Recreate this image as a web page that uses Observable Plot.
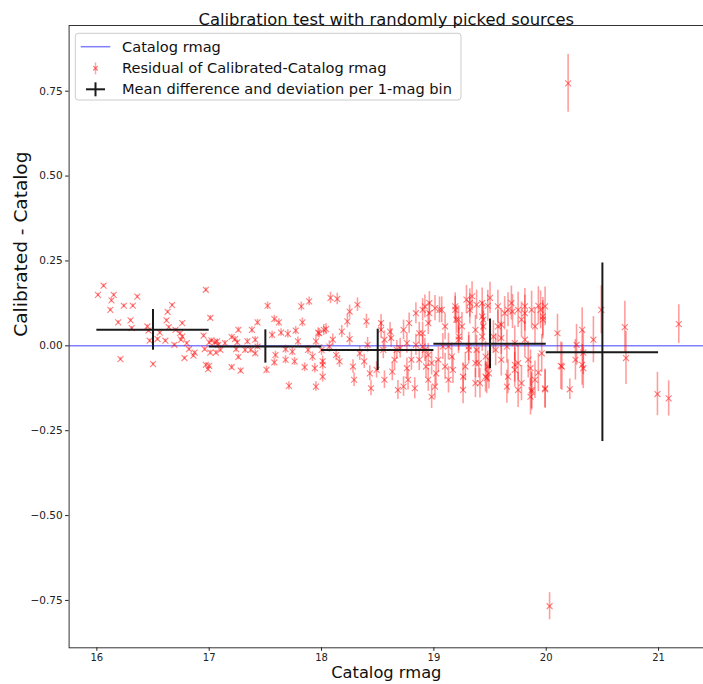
<!DOCTYPE html>
<html>
<head>
<meta charset="utf-8">
<script src="https://cdn.jsdelivr.net/npm/d3@7"></script>
<script src="https://cdn.jsdelivr.net/npm/@observablehq/plot@0.6"></script>
<style>
  html, body { margin: 0; padding: 0; background: white; }
  #chart { width: 703px; height: 684px; }
</style>
</head>
<body>
<div id="chart"></div>
<script>
// ---- Data (x = catalog rmag, y = calibrated - catalog, e = error) ----
const titleText = "Calibration test with randomly picked sources";
const xLabel = "Catalog rmag";
const yLabel = "Calibrated - Catalog";
const legendLabels = ["Catalog rmag", "Residual of Calibrated-Catalog rmag", "Mean difference and deviation per 1-mag bin"];

const xTicks = [16, 17, 18, 19, 20, 21];
const yTicks = [-0.75, -0.5, -0.25, 0, 0.25, 0.5, 0.75];

const res16 = [
  [16.06,0.177,0.005],[16.01,0.150,0.005],[16.15,0.150,0.005],[16.13,0.134,0.005],[16.36,0.145,0.005],
  [16.24,0.118,0.005],[16.32,0.118,0.005],[16.12,0.106,0.005],[16.19,0.069,0.005],[16.30,0.075,0.005],
  [16.31,0.052,0.005],[16.45,0.057,0.005],[16.46,0.045,0.005],[16.47,0.015,0.005],[16.21,-0.039,0.005],
  [16.50,-0.054,0.005],[16.67,0.120,0.005],[16.63,0.100,0.005],[16.62,0.075,0.005],[16.76,0.067,0.005],
  [16.56,0.039,0.005],[16.54,0.020,0.005],[16.61,0.015,0.005],[16.64,0.055,0.005],[16.70,0.047,0.005],
  [16.74,0.037,0.005],[16.76,0.027,0.005],[16.75,0.018,0.005],[16.80,0.008,0.005],[16.69,0.003,0.005],
  [16.82,-0.010,0.005],[16.87,-0.020,0.005],[16.78,-0.036,0.005],[16.86,-0.029,0.005],[16.97,0.165,0.006],
  [16.95,0.030,0.006],[16.96,-0.010,0.006],[16.97,-0.056,0.006],[16.99,-0.069,0.006]
];
const res17 = [
  [17.01,0.082,0.007],[17.02,0.016,0.007],[17.00,0.010,0.007],[17.01,-0.020,0.007],[17.00,-0.059,0.007],
  [17.05,0.010,0.007],[17.06,-0.020,0.007],[17.08,0.003,0.007],[17.07,0.013,0.007],[17.10,-0.012,0.007],
  [17.14,0.008,0.008],[17.20,0.026,0.008],[17.23,0.020,0.008],[17.25,0.010,0.008],[17.26,0.047,0.008],
  [17.24,-0.010,0.008],[17.26,-0.033,0.008],[17.20,-0.063,0.008],[17.28,-0.073,0.008],[17.32,-0.012,0.009],
  [17.34,0.013,0.009],[17.38,0.047,0.009],[17.43,0.069,0.009],[17.41,0.018,0.009],[17.41,-0.022,0.009],
  [17.37,-0.012,0.009],[17.43,-0.002,0.009],[17.52,0.118,0.011],[17.56,0.032,0.011],[17.58,0.079,0.011],
  [17.62,0.069,0.011],[17.64,0.039,0.011],[17.51,-0.071,0.011],[17.58,-0.049,0.011],[17.59,-0.027,0.011],
  [17.70,0.035,0.012],[17.77,0.045,0.012],[17.83,0.069,0.013],[17.82,0.116,0.013],[17.89,0.131,0.013],
  [17.68,-0.010,0.012],[17.74,-0.017,0.012],[17.76,-0.046,0.012],[17.85,-0.063,0.013],[17.71,-0.118,0.012],
  [17.95,-0.120,0.014],[17.94,-0.066,0.014],[17.92,-0.032,0.014],[17.95,0.013,0.014],[17.97,0.039,0.014],
  [17.79,0.013,0.013],[17.88,-0.012,0.013],[17.68,-0.041,0.012],[17.98,0.037,0.014]
];
const res18 = [
  [18.02,0.047,0.016],[18.00,-0.012,0.016],[18.01,-0.046,0.016],[18.08,0.141,0.017],[18.14,0.138,0.017],
  [18.25,0.101,0.019],[18.32,0.121,0.02],[18.23,0.072,0.019],[18.40,0.072,0.021],[18.04,0.049,0.016],
  [18.18,0.042,0.018],[18.10,0.018,0.017],[18.25,0.020,0.019],[18.07,-0.002,0.017],[18.13,-0.027,0.017],
  [18.16,-0.046,0.018],[18.01,-0.056,0.016],[18.28,-0.061,0.02],[18.29,-0.100,0.02],[18.44,-0.125,0.022],
  [18.43,-0.081,0.022],[18.38,-0.046,0.021],[18.34,-0.022,0.021],[18.41,0.003,0.022],[18.49,-0.071,0.024],
  [18.55,-0.012,0.026],[18.53,0.047,0.025],[18.61,0.042,0.027],[18.62,0.023,0.027],[18.56,-0.100,0.026],
  [18.68,-0.130,0.028],[18.73,-0.120,0.029],[18.77,-0.100,0.03],[18.83,-0.125,0.031],[18.65,-0.041,0.028],
  [18.70,-0.007,0.029],[18.73,0.047,0.029],[18.78,0.067,0.03],[18.84,0.096,0.031],[18.90,0.106,0.033],
  [18.87,0.037,0.032],[18.90,-0.002,0.033],[18.87,-0.041,0.032],[18.93,-0.061,0.034],[18.98,-0.150,0.035],
  [18.96,0.126,0.034],[18.80,-0.041,0.031],[18.01,-0.091,0.016],[18.53,0.067,0.025],[18.92,0.116,0.034],
  [18.96,0.096,0.034],[18.95,0.067,0.034],[18.90,0.037,0.033],[18.92,-0.012,0.034],[18.98,-0.051,0.035],
  [18.95,-0.100,0.034],[18.67,-0.012,0.028],[18.76,0.008,0.03],[18.84,0.003,0.031],[18.95,-0.027,0.034],
  [18.63,-0.076,0.027],[18.76,-0.066,0.03],[18.56,0.018,0.026]
];
const res19 = [
  [19.07,0.106,0.038],[19.13,-0.002,0.039],[19.17,-0.071,0.04],[19.19,0.106,0.04],[19.25,0.057,0.041],
  [19.26,-0.130,0.041],[19.32,0.126,0.042],[19.34,0.146,0.043],[19.37,0.047,0.043],[19.38,-0.012,0.043],
  [19.40,-0.051,0.044],[19.43,0.126,0.044],[19.44,0.077,0.045],[19.46,-0.091,0.045],[19.50,0.141,0.046],
  [19.53,0.027,0.047],[19.57,0.116,0.048],[19.60,-0.041,0.048],[19.63,0.096,0.049],[19.66,-0.091,0.05],
  [19.69,0.126,0.05],[19.72,0.008,0.051],[19.75,-0.051,0.052],[19.78,0.077,0.052],[19.81,0.116,0.053],
  [19.84,-0.041,0.054],[19.86,-0.150,0.054],[19.90,0.057,0.055],[19.95,0.106,0.056],[19.96,-0.022,0.056],
  [19.99,0.116,0.057],[19.90,-0.100,0.055],[19.60,0.062,0.048],[19.49,-0.081,0.046],[19.31,-0.012,0.042],
  [19.22,0.018,0.041],[19.10,0.057,0.039],[19.16,-0.032,0.04],[19.28,-0.061,0.042],[19.43,0.027,0.044],
  [19.37,-0.110,0.043],[19.55,-0.012,0.047],[19.72,-0.071,0.051],[19.78,-0.110,0.052],[19.04,-0.041,0.038],
  [19.22,0.077,0.041],[19.87,0.106,0.055],
  [19.01,0.111,0.037],[19.05,0.106,0.038],[19.02,-0.081,0.037],[19.01,-0.120,0.037],[19.08,-0.002,0.038],
  [19.10,-0.061,0.039],[19.13,-0.100,0.039],[19.19,0.116,0.04],[19.20,0.077,0.04],[19.22,0.027,0.041],
  [19.26,-0.091,0.041],[19.29,0.136,0.042],[19.32,0.106,0.042],[19.31,-0.002,0.042],[19.37,-0.051,0.043],
  [19.38,0.121,0.043],[19.43,0.086,0.044],[19.44,0.057,0.045],[19.41,-0.110,0.044],[19.46,-0.032,0.045],
  [19.48,-0.061,0.046],
  [19.48,0.118,0.046],[19.57,0.057,0.048],[19.60,0.023,0.048],[19.47,-0.095,0.046],[19.65,-0.120,0.049],
  [19.66,0.106,0.05],[19.70,0.101,0.05],[19.75,0.106,0.052],[19.72,-0.056,0.051],[19.75,-0.130,0.052],
  [19.81,0.018,0.053],[19.86,-0.066,0.054],[19.87,-0.135,0.055],[19.97,0.086,0.056],[19.99,-0.125,0.057],
  [19.65,-0.002,0.049],[19.81,0.096,0.053],[19.93,0.118,0.056],[19.97,0.077,0.056],[19.93,-0.079,0.056],
  [19.99,-0.128,0.057],[19.87,-0.130,0.055]
];
const res20 = [
  [20.10,0.037,0.056],[20.13,-0.059,0.07],[20.14,-0.061,0.07],[20.21,-0.128,0.03],[20.26,-0.041,0.06],
  [20.27,0.003,0.06],[20.32,0.047,0.065],[20.33,-0.020,0.065],[20.32,-0.056,0.06],[20.33,-0.066,0.06],
  [20.42,0.018,0.068],[20.49,0.106,0.071],[20.70,0.055,0.076],[20.71,-0.036,0.078],[20.99,-0.142,0.064],
  [21.09,-0.155,0.052],[21.18,0.064,0.057],[20.195,0.773,0.085],[20.03,-0.767,0.04]
];

// Mean difference and deviation per 1-mag bin
const binLo = [16, 17, 18, 19, 20];
const binHi = [17, 18, 19, 20, 21];
const binMean = [0.047, -0.002, -0.012, 0.006, -0.019];
const binStd = [0.060, 0.049, 0.061, 0.073, 0.263];

// ---- Build tables ----
const residuals = [...res16, ...res17, ...res18, ...res19, ...res20].map(([x, y, e]) => ({x, y, e}));
const bins = binLo.map((lo, i) => ({lo, hi: binHi[i], c: (lo + binHi[i]) / 2, mean: binMean[i], sd: binStd[i]}));

const W = 703, H = 684;
const mL = 68.6, mR = 0, mT = 25, mB = 36.7;
const FONT = "DejaVu Sans";

const chart = Plot.plot({
  width: W, height: H,
  marginLeft: mL, marginRight: mR, marginTop: mT, marginBottom: mB,
  style: {fontFamily: FONT, background: "white", color: "#222", overflow: "visible"},
  x: {domain: [15.753, 21.40]},
  y: {domain: [-0.8895, 0.9435]},
  marks: [
    Plot.ruleY([0], {stroke: "blue", strokeOpacity: 0.5, strokeWidth: 1.5}),
    Plot.ruleX(residuals, {x: "x", y1: d => d.y - d.e, y2: d => d.y + d.e, stroke: "red", strokeOpacity: 0.38, strokeWidth: 1.6}),
    Plot.dot(residuals, {x: "x", y: "y", symbol: "times", r: 2.8, stroke: "red", strokeOpacity: 0.5, strokeWidth: 1.1}),
    Plot.ruleY(bins, {y: "mean", x1: "lo", x2: "hi", stroke: "#1a1a1a", strokeWidth: 2}),
    Plot.ruleX(bins, {x: "c", y1: d => d.mean - d.sd, y2: d => d.mean + d.sd, stroke: "#1a1a1a", strokeWidth: 2}),
    Plot.frame({stroke: "#333", strokeWidth: 1}),
    Plot.axisX({ticks: xTicks, tickSize: 3.5, tickPadding: 3, fontSize: 10, label: null, tickFormat: d => String(d)}),
    Plot.axisY({ticks: yTicks, tickSize: 3.5, tickPadding: 3, fontSize: 10.5, label: null, tickFormat: d3.format(".2f")}),
    Plot.text([titleText], {frameAnchor: "top", dy: -12.5, fontSize: 16.4, text: d => d, fill: "#111"}),
    Plot.text([xLabel], {frameAnchor: "bottom", dy: 30, fontSize: 16.3, text: d => d, fill: "#111"}),
    Plot.text([yLabel], {frameAnchor: "left", dx: -48, rotate: -90, fontSize: 18.5, text: d => d, fill: "#111"})
  ]
});

// ---- Legend (upper left, inside the frame) ----
const svg = d3.select(chart);
const lx = mL + 6.7, ly = mT + 8.3;
const g = svg.append("g").attr("font-family", FONT).attr("font-size", 14.6).attr("text-anchor", "start");
g.append("rect").attr("x", lx).attr("y", ly).attr("width", 385.7).attr("height", 66.7)
  .attr("rx", 3).attr("fill", "white").attr("fill-opacity", 0.85).attr("stroke", "#ccc");
const rowY = [ly + 13.4, ly + 35, ly + 56];
const hx = lx + 20.2;
// line handle
g.append("line").attr("x1", lx + 5.4).attr("x2", lx + 35).attr("y1", rowY[0]).attr("y2", rowY[0])
  .attr("stroke", "blue").attr("stroke-opacity", 0.5).attr("stroke-width", 1.5);
// errorbar handle
g.append("line").attr("x1", hx).attr("x2", hx).attr("y1", rowY[1] - 6).attr("y2", rowY[1] + 6)
  .attr("stroke", "red").attr("stroke-opacity", 0.35).attr("stroke-width", 1.5);
g.append("path").attr("d", `M${hx-2.2},${rowY[1]-2.2}L${hx+2.2},${rowY[1]+2.2}M${hx-2.2},${rowY[1]+2.2}L${hx+2.2},${rowY[1]-2.2}`)
  .attr("stroke", "red").attr("stroke-opacity", 0.55).attr("stroke-width", 1.2);
// bin handle
g.append("line").attr("x1", hx - 9.5).attr("x2", hx + 9.5).attr("y1", rowY[2]).attr("y2", rowY[2])
  .attr("stroke", "#1a1a1a").attr("stroke-width", 2);
g.append("line").attr("x1", hx).attr("x2", hx).attr("y1", rowY[2] - 7).attr("y2", rowY[2] + 7)
  .attr("stroke", "#1a1a1a").attr("stroke-width", 2);
legendLabels.forEach((t, i) => {
  g.append("text").attr("x", lx + 46.7).attr("y", rowY[i]).attr("dy", "0.35em")
    .attr("text-anchor", "start").attr("fill", "#111").text(t);
});

document.getElementById("chart").appendChild(chart);
</script>
</body>
</html>
